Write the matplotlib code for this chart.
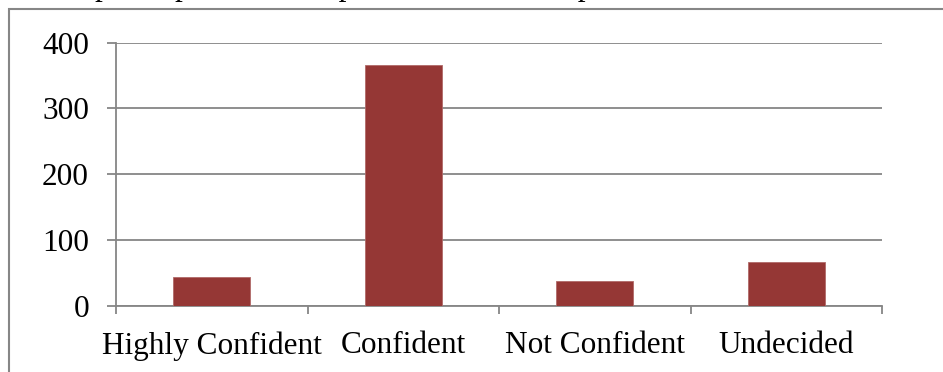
import matplotlib
matplotlib.use("Agg")
import matplotlib.pyplot as plt
from matplotlib.patches import Rectangle
from matplotlib.ticker import FixedLocator

categories = ["Highly Confident", "Confident", "Not Confident", "Undecided"]
counts = [44, 366, 38, 66]
y_ticks = [0, 100, 200, 300, 400]

BAR_COLOR = "#953735"
LINE_COLOR = "#868686"
FONT = "Liberation Serif"
W, H = 943, 372

fig = plt.figure(figsize=(W / 100, H / 100), dpi=100)
fig.patch.set_facecolor("white")

# outer frame of the chart object
fig.patches.append(Rectangle((9 / W, -0.2), 1.2, 1 - 9 / H + 0.2,
                             transform=fig.transFigure, fill=False,
                             edgecolor=LINE_COLOR, lw=1.5, zorder=0))

# caption line from the surrounding text, mostly above the frame
fig.text(95 / W, 1 + 5 / H,
         "participation and representation in the politics of Ondo state.",
         family=FONT, fontsize=22.5, va="baseline", ha="left", color="black")

left, right = 116 / W, 882 / W
bottom, top = 1 - 305.7 / H, 1 - 42.7 / H
ax = fig.add_axes([left, bottom, right - left, top - bottom])

x = list(range(len(categories)))
ax.bar(x, counts, width=0.4, color=BAR_COLOR, edgecolor="#b06a68",
       linewidth=0.6, zorder=3)

ax.set_xlim(-0.5, len(categories) - 0.5)
ax.set_ylim(0, 400)
ax.set_yticks(y_ticks)
ax.set_yticklabels([str(v) for v in y_ticks], family=FONT, fontsize=22.5)
ax.set_xticks(x)
ax.set_xticklabels(categories, family=FONT, fontsize=22.5)
ax.xaxis.set_minor_locator(FixedLocator([i - 0.5 for i in range(len(categories) + 1)]))

ax.grid(axis="y", color=LINE_COLOR, lw=1.3, zorder=0)
ax.set_axisbelow(True)

for s in ("top", "right"):
    ax.spines[s].set_visible(False)
for s in ("left", "bottom"):
    ax.spines[s].set_color(LINE_COLOR)
    ax.spines[s].set_linewidth(1.3)

ax.tick_params(axis="y", length=6.5, width=1.3, color=LINE_COLOR, pad=13)
ax.tick_params(axis="x", which="major", length=0, pad=18.5)
ax.tick_params(axis="x", which="minor", length=6, width=1.3, color=LINE_COLOR)

fig.savefig("out.png", dpi=100, facecolor="white")
